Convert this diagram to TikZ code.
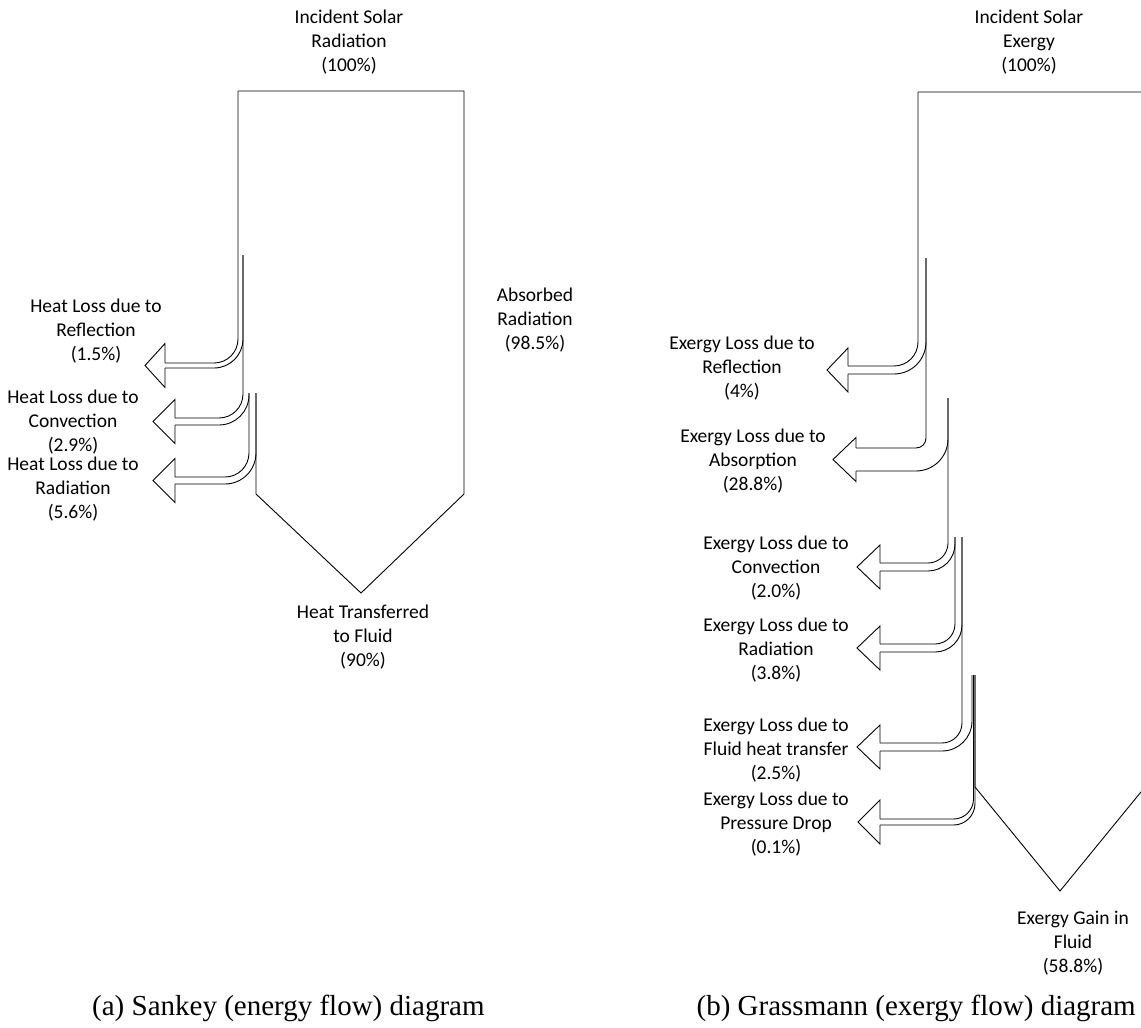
\documentclass[tikz,border=0pt]{standalone}
\usepackage{fontspec}
\setmainfont{Carlito}
\newfontfamily\capfont{Liberation Serif}
\begin{document}
\begin{tikzpicture}[x=1pt,y=-1pt,
  flow/.style={draw=black,line width=0.9pt,line join=miter},
  lbl/.style={font=\fontsize{19.5}{24}\selectfont,align=center,inner sep=0pt},
  captext/.style={font=\capfont\fontsize{29}{34}\selectfont,inner sep=0pt}]
\clip (0,0) rectangle (1141,1028);
\fill[white] (0,0) rectangle (1141,1028);

% loss arrow: #1 outer x, #2 outer start y, #3 inner x, #4 inner start y,
% #5 shaft top y, #6 shaft bottom y, #7 head back x, #8 tip x, #9 outer radius
\newcommand\lossarrow[9]{%
  \pgfmathsetmacro\innerR{#9+#3-#1}%
  \pgfmathsetmacro\midy{(#5+#6)/2}%
  \draw[flow,rounded corners=#9pt] (#1,#2) |- (#7,#5);
  \draw[flow] (#7,#5) -- (#7,\midy-22) -- (#8,\midy) -- (#7,\midy+22) -- (#7,#6);
  \draw[flow,rounded corners=\innerR pt] (#7,#6) -| (#3,#4);
}

% ---------- (a) energy flow ----------
\draw[flow] (256,393) -- (256,494) -- (361,593) -- (464,494) -- (464,91) -- (238,91);
\lossarrow{238}{91}{243}{255}{363}{368}{165}{145}{24}
\lossarrow{243}{255}{249}{393}{418}{425}{175}{153}{24}
\lossarrow{249}{393}{256}{393}{477}{484}{175}{153}{24}

\node[lbl] (inA) at (349,42) {Incident Solar\\Radiation\\(100\%)};
\node[lbl] (refA) at (96,331) {Heat Loss due to\\Reflection\\(1.5\%)};
\node[lbl] (conA) at (73,422) {Heat Loss due to\\Convection\\(2.9\%)};
\node[lbl] (radA) at (73,489) {Heat Loss due to\\Radiation\\(5.6\%)};
\node[lbl] (absA) at (535,320) {Absorbed\\Radiation\\(98.5\%)};
\node[lbl] (outA) at (363,637) {Heat Transferred\\to Fluid\\(90\%)};
\node[captext,anchor=base west] (capA) at (92,1015) {(a) Sankey (energy flow) diagram};

% ---------- (b) exergy flow ----------
\draw[flow] (975,675) -- (975,787) -- (1060,891) -- (1145,787) -- (1145,92) -- (918,92);
\lossarrow{918}{92}{926}{258}{366}{374}{848}{827}{24}
\lossarrow{926}{258}{948}{398}{448}{471}{856}{833}{10}
\lossarrow{948}{398}{955}{537}{563}{571}{880}{857}{20}
\lossarrow{955}{537}{962}{537}{644}{652}{880}{857}{20}
\lossarrow{962}{537}{972}{675}{743}{751}{880}{857}{20}
\lossarrow{973.5}{675}{975}{675}{819}{825}{880}{858}{20}

\node[lbl] (inB) at (1029,42) {Incident Solar\\Exergy\\(100\%)};
\node[lbl] (refB) at (742,368) {Exergy Loss due to\\Reflection\\(4\%)};
\node[lbl] (absB) at (753,461) {Exergy Loss due to\\Absorption\\(28.8\%)};
\node[lbl] (conB) at (776,568) {Exergy Loss due to\\Convection\\(2.0\%)};
\node[lbl] (radB) at (776,650) {Exergy Loss due to\\Radiation\\(3.8\%)};
\node[lbl] (fhtB) at (776,750) {Exergy Loss due to\\Fluid heat transfer\\(2.5\%)};
\node[lbl] (prdB) at (776,824) {Exergy Loss due to\\Pressure Drop\\(0.1\%)};
\node[lbl] (outB) at (1073,943) {Exergy Gain in\\Fluid\\(58.8\%)};
\node[captext,anchor=base east] (capB) at (1136,1015) {(b) Grassmann (exergy flow) diagram};
\end{tikzpicture}
\end{document}
